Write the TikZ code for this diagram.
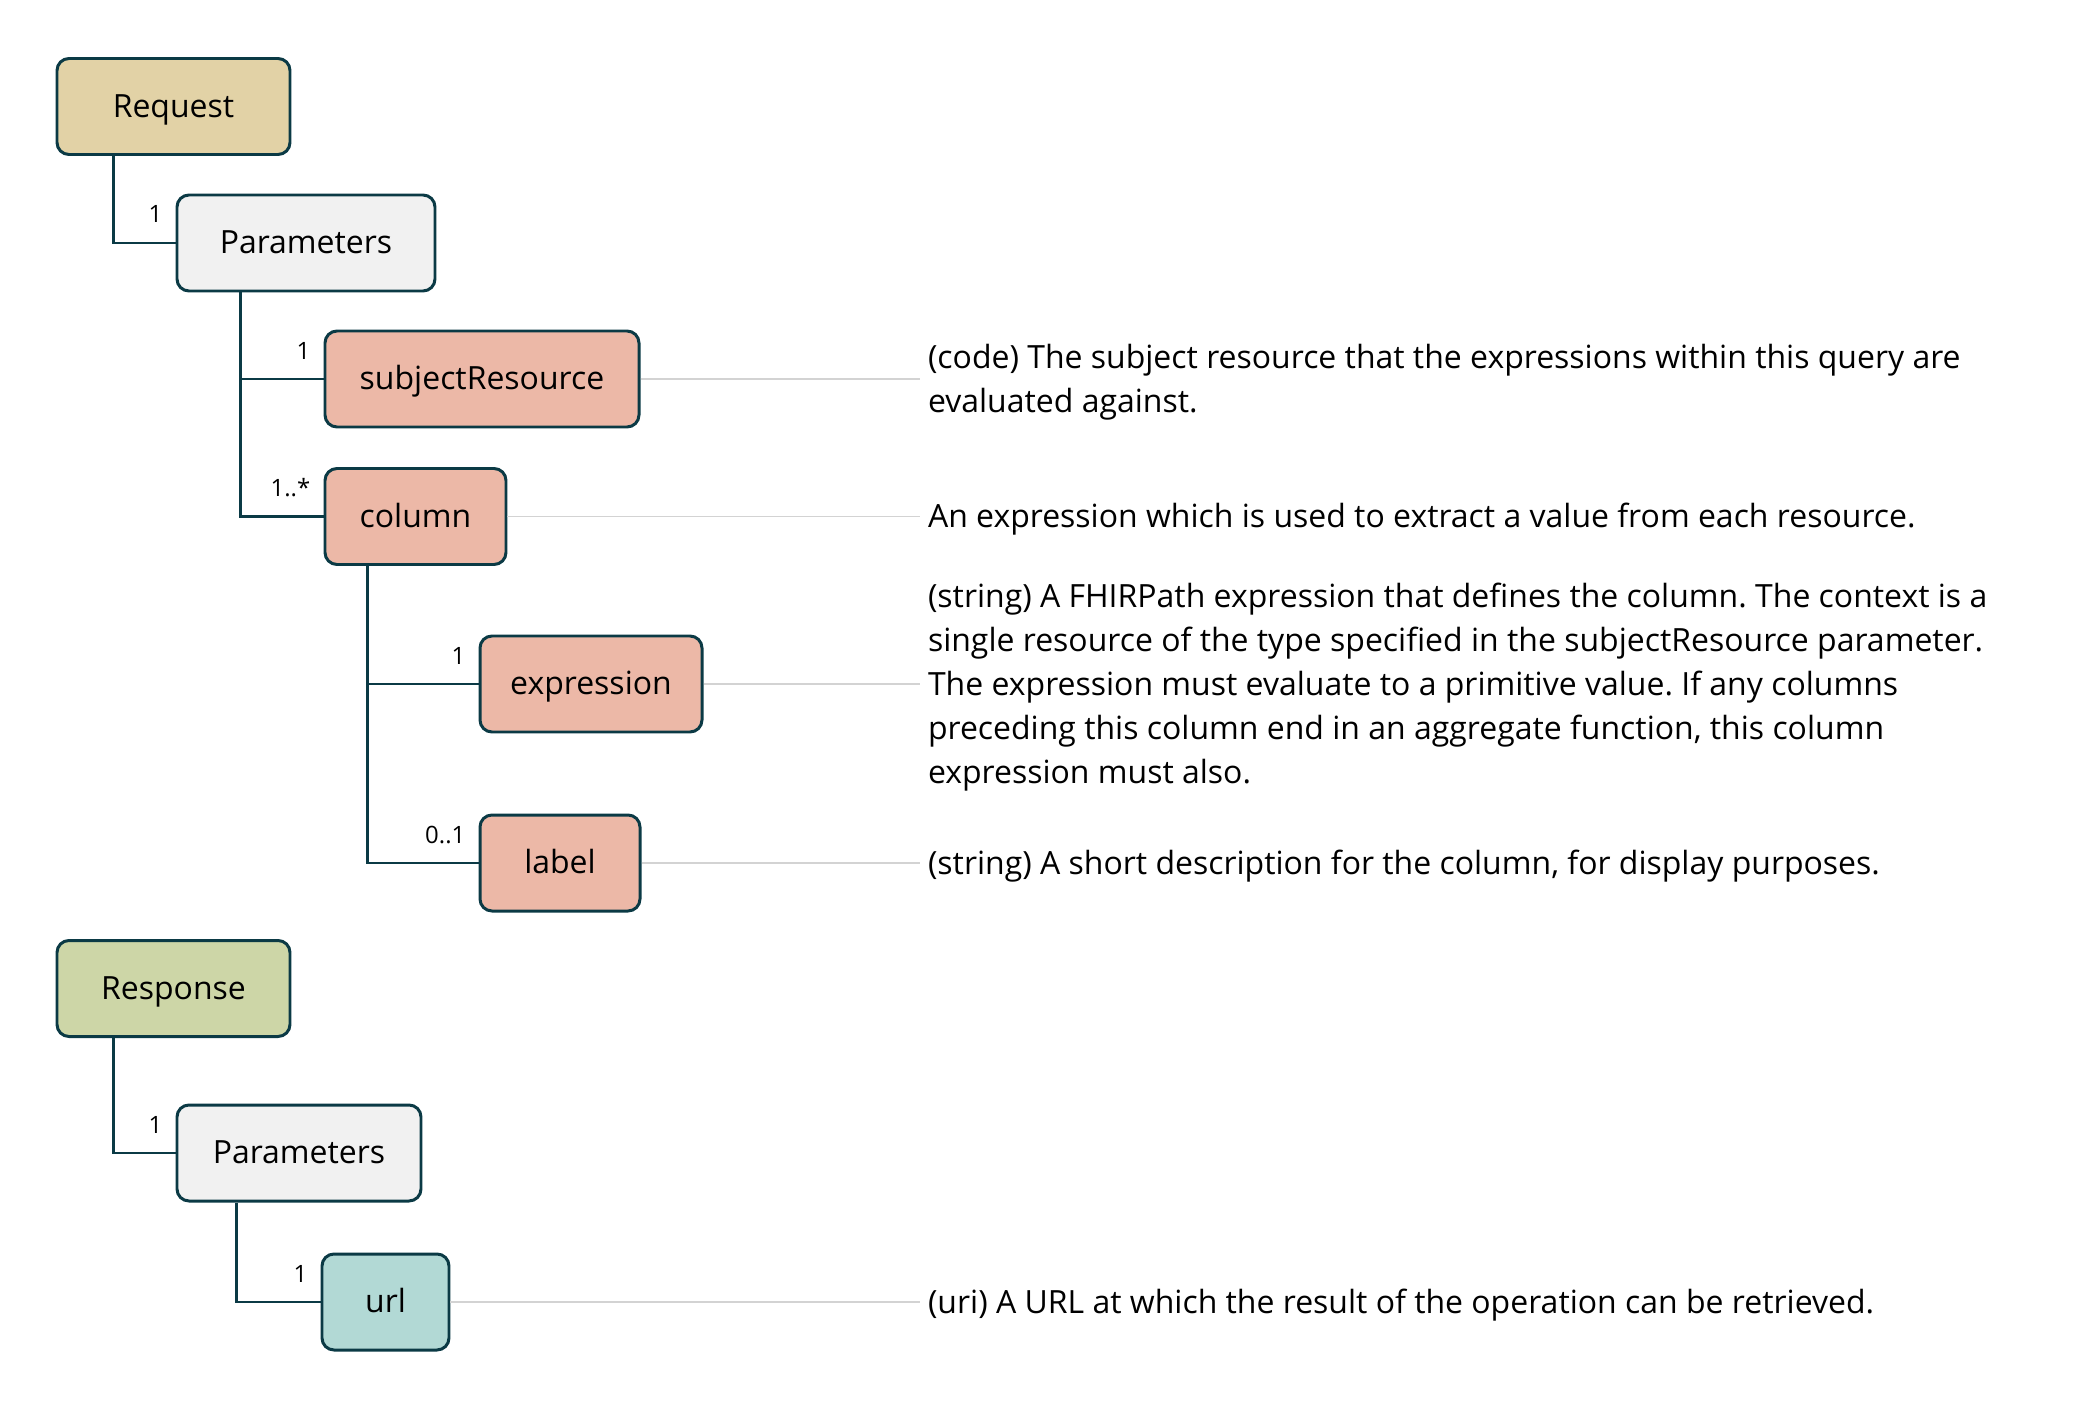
\documentclass[tikz,border=0pt]{standalone}
\usepackage{fontspec}
\setmainfont{Open Sans}
\frenchspacing

\definecolor{edgeline}{HTML}{0B3A45}
\definecolor{reqfill}{HTML}{E2D2A6}
\definecolor{parfill}{HTML}{F1F1F1}
\definecolor{elemfill}{HTML}{ECB8A7}
\definecolor{respfill}{HTML}{CDD6A7}
\definecolor{urlfill}{HTML}{B2D9D5}
\definecolor{guidegray}{HTML}{D3D3D3}

\begin{document}
\begin{tikzpicture}[
        item/.style={draw=edgeline, line width=0.85pt, rounded corners=0.12cm,
            minimum height=0.96cm, inner sep=0pt, text height=6pt, text depth=0pt,
            font=\fontsize{9.1}{11}\selectfont},
        link/.style={draw=edgeline, line width=0.7pt},
        guide/.style={draw=guidegray, line width=0.55pt},
        mult/.style={anchor=base east, inner sep=0pt, xshift=-0.12cm, yshift=0.20cm,
            font=\fontsize{6.8}{8}\selectfont},
        desc/.style={anchor=west, align=left, inner sep=0pt, outer xsep=0.08cm,
            yshift=-0.03cm, font=\fontsize{9.1}{12.5}\selectfont\frenchspacing}
    ]
        \useasboundingbox (0, 0) rectangle (20.84, -14.06);

        % request tree
        \node[item, fill=reqfill, minimum width=2.33cm] at (1.735, -1.065)(req){Request};
        \node[item, fill=parfill, minimum width=2.58cm] at (3.06, -2.43)(par1){Parameters};
        \node[item, fill=elemfill, minimum width=3.14cm] at (4.82, -3.79)(subj){subjectResource};
        \node[item, fill=elemfill, minimum width=1.81cm] at (4.155, -5.165)(col){column};
        \node[item, fill=elemfill, minimum width=2.22cm] at (5.91, -6.84)(expr){expression};
        \node[item, fill=elemfill, minimum width=1.60cm] at (5.60, -8.63)(lab){label};

        % response tree
        \node[item, fill=respfill, minimum width=2.33cm] at (1.735, -9.885)(resp){Response};
        \node[item, fill=parfill, minimum width=2.44cm] at (2.99, -11.53)(par2){Parameters};
        \node[item, fill=urlfill, minimum width=1.27cm] at (3.855, -13.02)(url){url};

        % descriptions
        \node[desc] at (9.20, -3.79)(dsubj){(code) The subject resource that the expressions within this query are\\evaluated against.};
        \node[desc] at (9.20, -5.165)(dcol){An expression which is used to extract a value from each resource.};
        \node[desc] at (9.20, -6.84)(dexpr){(string) A FHIRPath expression that defines the column. The context is a\\single resource of the type specified in the subjectResource parameter.\\The expression must evaluate to a primitive value. If any columns\\preceding this column end in an aggregate function, this column\\expression must also.};
        \node[desc] at (9.20, -8.63)(dlab){(string) A short description for the column, for display purposes.};
        \node[desc] at (9.20, -13.02)(durl){(uri) A URL at which the result of the operation can be retrieved.};

        \path[link]
        ([xshift=0.58cm]req.south west) |- (par1.west) node[mult]{1}
        ([xshift=0.65cm]par1.south west) |- (subj.west) node[mult]{1}
        ([xshift=0.65cm]par1.south west) |- (col.west) node[mult]{1..*}
        ([xshift=0.44cm]col.south west) |- (expr.west) node[mult]{1}
        ([xshift=0.44cm]col.south west) |- (lab.west) node[mult]{0..1}
        ([xshift=0.58cm]resp.south west) |- (par2.west) node[mult]{1}
        ([xshift=0.61cm]par2.south west) |- (url.west) node[mult]{1}
        ;

        \path[guide]
        (subj.east) -- (subj.east -| dsubj.west)
        (col.east) -- (col.east -| dcol.west)
        (expr.east) -- (expr.east -| dexpr.west)
        (lab.east) -- (lab.east -| dlab.west)
        (url.east) -- (url.east -| durl.west)
        ;
    \end{tikzpicture}
\end{document}
